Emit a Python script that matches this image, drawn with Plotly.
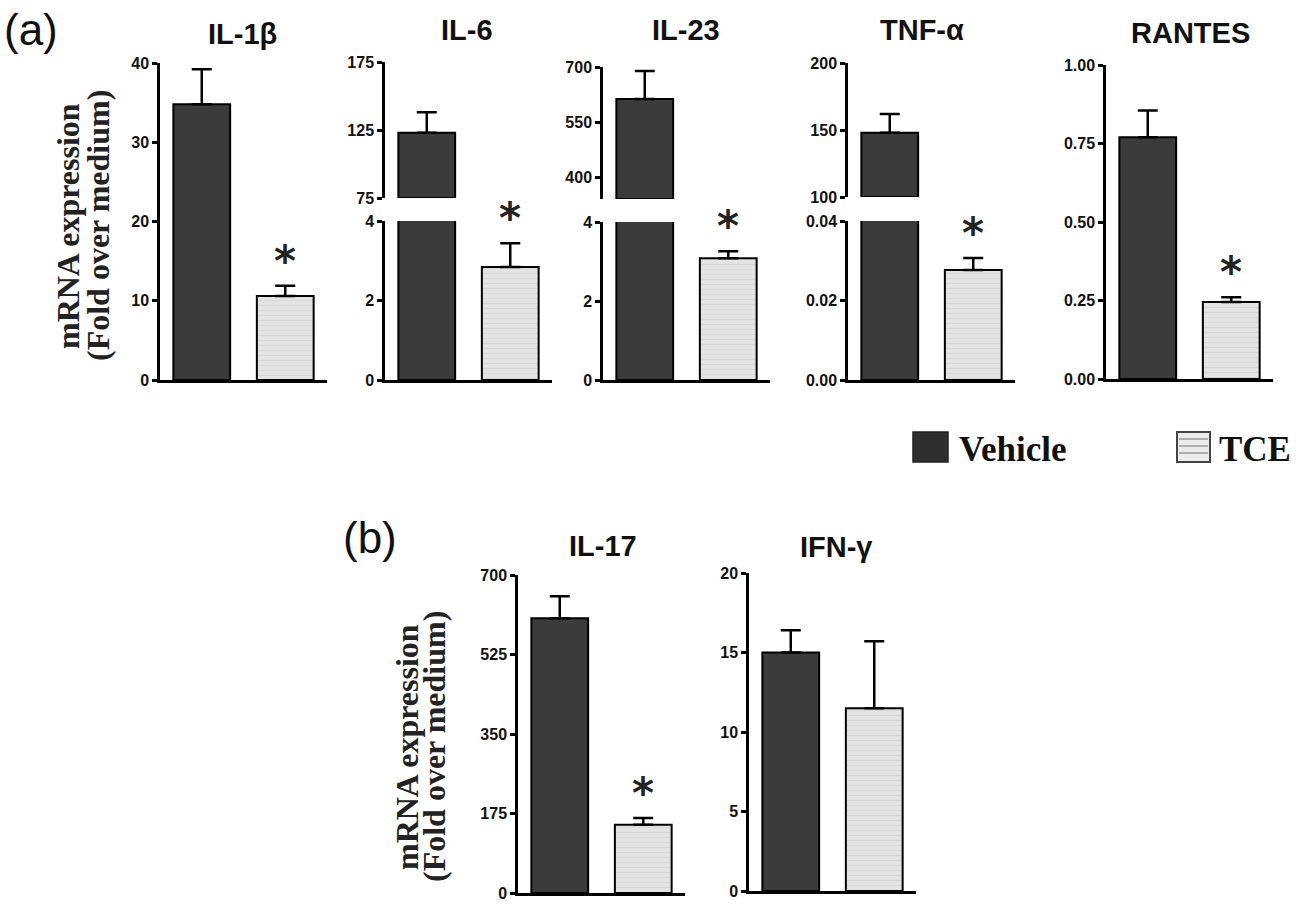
import plotly.graph_objects as go

W, H = 1301, 914
OFF = 0  # body margin is reset to 0 below, so paper pixels = window pixels

# ---------------- data ----------------
panels_a = ["IL-1β", "IL-6", "IL-23", "TNF-α", "RANTES"]
vehicle_a = [34.8, 123, 613, 148, 0.77]
vehicle_err_a = [4.4, 15, 76, 14, 0.085]
tce_a = [10.6, 2.84, 3.08, 0.0277, 0.245]
tce_err_a = [1.3, 0.6, 0.18, 0.003, 0.015]
signif_a = [True, True, True, True, True]

panels_b = ["IL-17", "IFN-γ"]
vehicle_b = [605, 15.0]
vehicle_err_b = [48, 1.4]
tce_b = [150, 11.5]
tce_err_b = [15, 4.2]
signif_b = [True, False]

groups = ["Vehicle", "TCE"]

lower_range = {"IL-1β": [0, 40], "IL-6": [0, 4], "IL-23": [0, 4], "TNF-α": [0, 0.04],
               "RANTES": [0, 1], "IL-17": [0, 700], "IFN-γ": [0, 20]}
lower_ticks = {"IL-1β": [0, 10, 20, 30, 40], "IL-6": [0, 2, 4], "IL-23": [0, 2, 4],
               "TNF-α": [0, 0.02, 0.04], "RANTES": [0, 0.25, 0.5, 0.75, 1.0],
               "IL-17": [0, 175, 350, 525, 700], "IFN-γ": [0, 5, 10, 15, 20]}
lower_ticktext = {"IL-1β": ["0", "10", "20", "30", "40"], "IL-6": ["0", "2", "4"],
                  "IL-23": ["0", "2", "4"], "TNF-α": ["0.00", "0.02", "0.04"],
                  "RANTES": ["0.00", "0.25", "0.50", "0.75", "1.00"],
                  "IL-17": ["0", "175", "350", "525", "700"],
                  "IFN-γ": ["0", "5", "10", "15", "20"]}
upper_range = {"IL-6": [75, 175], "IL-23": [340, 700], "TNF-α": [100, 200]}
upper_ticks = {"IL-6": [75, 125, 175], "IL-23": [400, 550, 700], "TNF-α": [100, 150, 200]}

# ---------------- layout geometry (window pixels) ----------------
panel_left = {"IL-1β": 160, "IL-6": 385, "IL-23": 603, "TNF-α": 848, "RANTES": 1106,
              "IL-17": 518, "IFN-γ": 749}
panel_w = 167
lower_px = {"IL-1β": (63, 380), "IL-6": (221, 380), "IL-23": (222, 380), "TNF-α": (221, 380),
            "RANTES": (65, 379), "IL-17": (575, 893), "IFN-γ": (573, 891)}
upper_px = {"IL-6": (62, 198), "IL-23": (67, 199), "TNF-α": (63, 197)}
title_px = {"IL-1β": (242, 34), "IL-6": (467, 30), "IL-23": (686, 30), "TNF-α": (922, 30),
            "RANTES": (1190, 33), "IL-17": (603, 546), "IFN-γ": (836, 547)}

VEH_COLOR = "#3b3b3b"
TCE_BG = "#e4e4e4"
TCE_FG = "#cccccc"
TICKFONT = dict(family="Liberation Sans", size=16, color="#111111", weight="bold")


def px2x(px):
    return (px - OFF) / W


def px2y(py):
    return 1 - (py - OFF) / H


def xdom(name):
    l = panel_left[name]
    return [px2x(l), px2x(l + panel_w)]


def ydom(top, bot):
    return [px2y(bot), px2y(top)]


fig = go.Figure()
layout = {}
annotations = []
ax_i = [0]


def new_axes():
    ax_i[0] += 1
    i = ax_i[0]
    return i, ("x" if i == 1 else f"x{i}"), ("y" if i == 1 else f"y{i}")


bar_w = 0.68
err_style = dict(type="data", symmetric=False, color="black", thickness=2.5, width=10)


def add_panel(name, veh, veh_err, tce, tce_err, sig):
    i, xa, ya = new_axes()
    top, bot = lower_px[name]
    broken = name in upper_range
    fig.add_trace(go.Bar(
        x=[0], y=[veh], width=bar_w, xaxis=xa, yaxis=ya, name=groups[0], showlegend=False,
        marker=dict(color=VEH_COLOR, line=dict(color="black", width=2)),
        error_y=None if broken else dict(err_style, array=[veh_err], arrayminus=[0]),
    ))
    fig.add_trace(go.Bar(
        x=[1], y=[tce], width=bar_w, xaxis=xa, yaxis=ya, name=groups[1], showlegend=False,
        marker=dict(color=TCE_BG, line=dict(color="black", width=2),
                    pattern=dict(shape="-", bgcolor=TCE_BG, fgcolor=TCE_FG, size=5, solidity=0.25)),
        error_y=dict(err_style, array=[tce_err], arrayminus=[0]),
    ))
    xkey = "xaxis" if i == 1 else f"xaxis{i}"
    ykey = "yaxis" if i == 1 else f"yaxis{i}"
    layout[xkey] = dict(domain=xdom(name), range=[-0.5, 1.5], anchor=ya, showline=True,
                        linecolor="black", linewidth=2.5, showticklabels=False, ticks="",
                        showgrid=False, zeroline=False, fixedrange=True)
    layout[ykey] = dict(domain=ydom(top, bot), range=lower_range[name], anchor=xa,
                        showline=True, linecolor="black", linewidth=2.5, ticks="outside",
                        ticklen=5, tickwidth=2.5, tickcolor="black", tickmode="array",
                        tickvals=lower_ticks[name], ticktext=lower_ticktext[name],
                        tickfont=TICKFONT, showgrid=False, zeroline=False, automargin=False)
    if sig:
        annotations.append(dict(x=1, y=tce + tce_err, xref=xa, yref=ya, text="*",
                                showarrow=False, yanchor="bottom", yshift=-2,
                                font=dict(family="DejaVu Sans", size=42, color="#222222",
                                          weight="bold")))
    if broken:
        j, xb, yb = new_axes()
        utop, ubot = upper_px[name]
        lo = upper_range[name][0]
        fig.add_trace(go.Bar(
            x=[0], y=[veh - lo], base=[lo], width=bar_w, xaxis=xb, yaxis=yb, name=groups[0],
            showlegend=False, marker=dict(color=VEH_COLOR, line=dict(color="black", width=2)),
            error_y=dict(err_style, array=[veh_err], arrayminus=[0]),
        ))
        layout[f"xaxis{j}"] = dict(domain=xdom(name), range=[-0.5, 1.5], anchor=yb,
                                   visible=False, fixedrange=True)
        layout[f"yaxis{j}"] = dict(domain=ydom(utop, ubot), range=upper_range[name], anchor=xb,
                                   showline=True, linecolor="black", linewidth=2.5,
                                   ticks="outside", ticklen=5, tickwidth=2.5, tickcolor="black",
                                   tickmode="array", tickvals=upper_ticks[name],
                                   tickfont=TICKFONT, showgrid=False, zeroline=False,
                                   automargin=False)
    tx, ty = title_px[name]
    annotations.append(dict(x=px2x(tx), y=px2y(ty), xref="paper", yref="paper", text=name,
                            showarrow=False, xanchor="center", yanchor="middle",
                            font=dict(family="Liberation Sans", size=29, color="#111111",
                                      weight="bold")))


for k, name in enumerate(panels_a):
    add_panel(name, vehicle_a[k], vehicle_err_a[k], tce_a[k], tce_err_a[k], signif_a[k])
for k, name in enumerate(panels_b):
    add_panel(name, vehicle_b[k], vehicle_err_b[k], tce_b[k], tce_err_b[k], signif_b[k])

YLAB_FONT = dict(family="Liberation Serif, Times New Roman", size=32, color="#222222",
                 weight="bold")
for (x1, x2, yc) in [(68, 98, 226), (407, 434, 747)]:
    annotations.append(dict(x=px2x(x1), y=px2y(yc), xref="paper", yref="paper",
                            text="mRNA expression", textangle=-90, showarrow=False,
                            xanchor="center", yanchor="middle", font=YLAB_FONT))
    annotations.append(dict(x=px2x(x2), y=px2y(yc), xref="paper", yref="paper",
                            text="(Fold over medium)", textangle=-90, showarrow=False,
                            xanchor="center", yanchor="middle", font=YLAB_FONT))

for (lab, px, py) in [("(a)", 31, 30), ("(b)", 370, 537)]:
    annotations.append(dict(x=px2x(px), y=px2y(py), xref="paper", yref="paper", text=lab,
                            showarrow=False, xanchor="center", yanchor="middle",
                            font=dict(family="Liberation Sans, Arial", size=44, color="#111111")))

shapes = []
shapes.append(dict(type="rect", xref="paper", yref="paper", x0=px2x(913), x1=px2x(948),
                   y0=px2y(462), y1=px2y(432), fillcolor="#2e2e2e",
                   line=dict(color="#222222", width=1.5)))
shapes.append(dict(type="rect", xref="paper", yref="paper", x0=px2x(1177), x1=px2x(1210),
                   y0=px2y(462), y1=px2y(432), fillcolor="#ececec",
                   line=dict(color="#444444", width=2)))
for ly in [439, 446, 453]:
    shapes.append(dict(type="line", xref="paper", yref="paper", x0=px2x(1179), x1=px2x(1208),
                       y0=px2y(ly), y1=px2y(ly), line=dict(color="#9a9a9a", width=1.5)))
LEG_FONT = dict(family="Liberation Serif, Times New Roman", size=35, color="#111111",
                weight="bold")
annotations.append(dict(x=px2x(957), y=px2y(449), xref="paper", yref="paper", text="Vehicle",
                        showarrow=False, xanchor="left", yanchor="middle", font=LEG_FONT))
annotations.append(dict(x=px2x(1217), y=px2y(449), xref="paper", yref="paper", text="TCE",
                        showarrow=False, xanchor="left", yanchor="middle", font=LEG_FONT))

fig.update_layout(
    width=W, height=H, margin=dict(l=0, r=0, t=0, b=0, autoexpand=False),
    paper_bgcolor="white", plot_bgcolor="white",
    showlegend=False, annotations=annotations, shapes=shapes, barmode="overlay",
    **layout,
)

fig.write_html("out.html", config={"displayModeBar": False},
               post_script="document.body.style.margin='0';")
